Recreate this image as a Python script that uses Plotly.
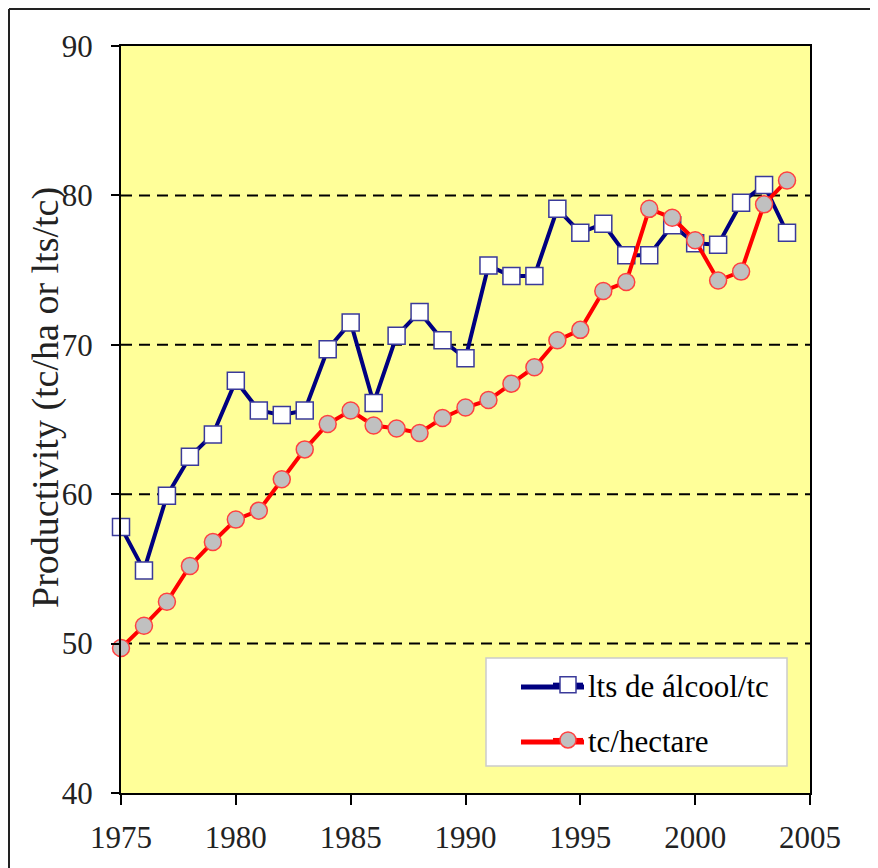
import plotly.graph_objects as go

years = list(range(1975, 2005))
lts_alcool_tc = [57.8, 54.9, 59.9, 62.5, 64.0, 67.6, 65.6, 65.3, 65.6, 69.7,
                 71.5, 66.1, 70.6, 72.2, 70.3, 69.1, 75.3, 74.6, 74.6, 79.1,
                 77.5, 78.1, 76.0, 76.0, 78.0, 76.8, 76.7, 79.5, 80.7, 77.5]
tc_hectare = [49.7, 51.2, 52.8, 55.2, 56.8, 58.3, 58.9, 61.0, 63.0, 64.7,
              65.6, 64.6, 64.4, 64.1, 65.1, 65.8, 66.3, 67.4, 68.5, 70.3,
              71.0, 73.6, 74.2, 79.1, 78.5, 77.0, 74.3, 74.9, 79.4, 81.0]
x_ticks = [1975, 1980, 1985, 1990, 1995, 2000, 2005]
y_ticks = [40, 50, 60, 70, 80, 90]
grid_vals = [50, 60, 70, 80]

SERIF = "Liberation Serif"
BLUE = "#000080"
RED = "#ff0000"

fig = go.Figure()
fig.add_trace(go.Scatter(
    x=years, y=lts_alcool_tc, mode="lines+markers", name="lts de álcool/tc",
    line=dict(color=BLUE, width=4),
    marker=dict(symbol="square", size=17, color="white",
                line=dict(color="#3a3a9a", width=1.5)),
    cliponaxis=False, legendgroup="a"))
fig.add_trace(go.Scatter(
    x=years, y=tc_hectare, mode="lines+markers", name="tc/hectare",
    line=dict(color=RED, width=4),
    marker=dict(symbol="circle", size=17, color="#c0c0c0",
                line=dict(color="#ff4040", width=1.5)),
    cliponaxis=False, legendgroup="b"))

# page pixel -> paper coords (plot area spans page x 121..810, y 46..793)
PW, PH = 689.0, 747.0
def px(xp):
    return (xp - 121) / PW
def py(yp):
    return (793 - yp) / PH

shapes = []
for g in grid_vals:
    shapes.append(dict(type="line", xref="paper", yref="y", x0=0, x1=1, y0=g, y1=g,
                       line=dict(color="black", width=2, dash="11px,7px"), layer="below"))
# outer frame (left and top)
shapes.append(dict(type="line", xref="paper", yref="paper", x0=px(9), x1=px(9),
                   y0=py(900), y1=py(9), line=dict(color="#222", width=2)))
shapes.append(dict(type="line", xref="paper", yref="paper", x0=px(9), x1=px(900),
                   y0=py(9), y1=py(9), line=dict(color="#222", width=2)))
# legend box
shapes.append(dict(type="rect", xref="paper", yref="paper", x0=px(486), x1=px(787),
                   y0=py(766), y1=py(658), fillcolor="white",
                   line=dict(color="#cccccc", width=1.5), layer="above"))
# longer legend key lines (the legend draws its own short key on top)
for yy, col in [(687, BLUE), (742, RED)]:
    shapes.append(dict(type="line", xref="paper", yref="paper", x0=px(521), x1=px(584),
                       y0=py(yy), y1=py(yy), line=dict(color=col, width=5),
                       layer="above"))

fig.update_layout(
    width=878, height=868,
    margin=dict(l=113, r=76, t=38, b=83, autoexpand=False),
    paper_bgcolor="white", plot_bgcolor="#FFFF99",
    font=dict(family=SERIF, color="black", size=31),
    showlegend=True,
    legend=dict(x=px(548), y=py(658), xanchor="left", yanchor="top",
                bgcolor="rgba(0,0,0,0)", borderwidth=0,
                font=dict(family=SERIF, size=31, color="black"),
                tracegroupgap=12),
    shapes=shapes,
    annotations=[dict(text="Productivity (tc/ha or lts/tc)", textangle=-90,
                      xref="paper", yref="paper", x=px(45), y=py(398),
                      xanchor="center", yanchor="middle", showarrow=False,
                      font=dict(family=SERIF, size=38, color="#222"))],
)
fig.update_xaxes(range=[1975, 2005], tickvals=x_ticks, ticks="outside", ticklen=10,
                 tickwidth=2, tickcolor="black", showline=True, linecolor="black",
                 linewidth=2, mirror=True, showgrid=False, zeroline=False,
                 tickfont=dict(family=SERIF, size=31, color="#222"), automargin=False,
                 ticklabelstandoff=6)
fig.update_yaxes(range=[40, 90], tickvals=y_ticks, ticks="outside", ticklen=8,
                 tickwidth=2, tickcolor="black", showline=True, linecolor="black",
                 linewidth=2, mirror=True, showgrid=False, zeroline=False,
                 tickfont=dict(family=SERIF, size=31, color="#222"), automargin=False,
                 ticklabelstandoff=12)

fig.write_html("out.html")
